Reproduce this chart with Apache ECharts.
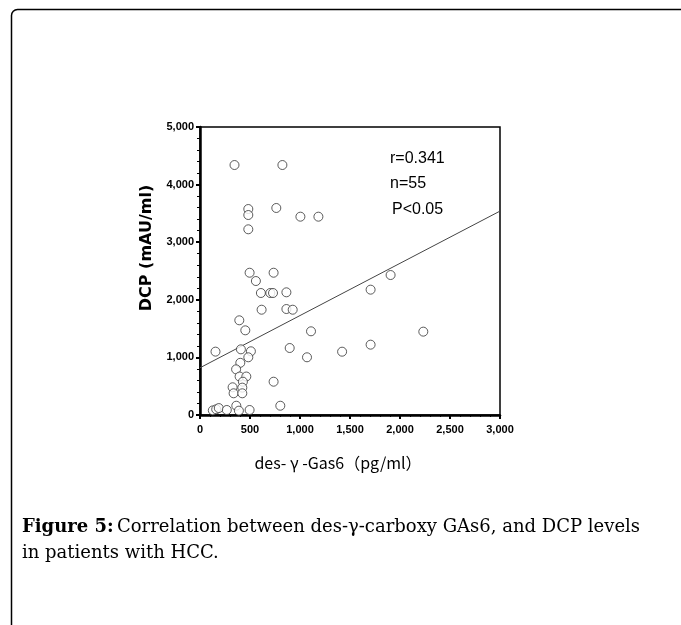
<!DOCTYPE html>
<html><head><meta charset="utf-8">
<script src="https://cdn.jsdelivr.net/npm/echarts@6/dist/echarts.min.js"></script>
<style>html,body{margin:0;padding:0;background:#fff}#c{width:681px;height:625px}</style>
</head><body><div id="c"></div>
<script>
// Data
const gas6 = [345,824,483,483,483,763,1004,1184,
  496,736,559,609,703,730,864,616,864,927,
  393,453,1110,
  155,409,509,483,897,1070,
  403,361,396,463,429,736,326,423,336,423,
  363,803,
  128,162,188,268,389,496,
  1906,1706,2233,1706,1421];
const dcp = [4340,4340,3576,3472,3224,3594,3443,3443,
  2470,2470,2326,2118,2118,2118,2130,1828,1840,1828,
  1644,1470,1453,
  1100,1140,1106,1002,1163,1002,
  906,793,668,668,578,578,481,475,377,377,
  161,161,
  80,99,120,87,75,87,
  2430,2176,1447,1221,1099];
const fitX = [0, 3000];
const fitY = [820, 3540];
const xTicks = [0,500,1000,1500,2000,2500,3000];
const yTicks = [0,1000,2000,3000,4000,5000];
const statsText = ["r=0.341","n=55","P<0.05"];
const xTitle = "des- \u03b3 -Gas6\uff08pg/ml\uff09";
const yTitle = "DCP (mAU/ml)";

const fmt = v => String(v).replace(/\B(?=(\d{3})+(?!\d))/g, ",");
const pts = gas6.map((x,i)=>[x,dcp[i]]);
const chart = echarts.init(document.getElementById('c'));
chart.setOption({
  animation:false,
  grid:{left:200,top:127,width:300,height:288,show:true,borderColor:'#000',borderWidth:1.5,backgroundColor:'transparent'},
  xAxis:{type:'value',min:xTicks[0],max:xTicks[xTicks.length-1],interval:500,
    axisLine:{lineStyle:{color:'#000',width:2.5}},
    axisTick:{length:4,lineStyle:{color:'#000',width:2}},
    minorTick:{show:true,splitNumber:5,length:2,lineStyle:{color:'#000',width:1}},
    splitLine:{show:false},
    axisLabel:{formatter:fmt,margin:9,fontFamily:'Liberation Sans',fontWeight:900,fontSize:11,color:'#000'}},
  yAxis:{type:'value',min:yTicks[0],max:yTicks[yTicks.length-1],interval:1000,
    axisLine:{lineStyle:{color:'#000',width:2.5}},
    axisTick:{length:4,lineStyle:{color:'#000',width:2}},
    minorTick:{show:true,splitNumber:5,length:3,lineStyle:{color:'#000',width:1}},
    splitLine:{show:false},
    axisLabel:{formatter:fmt,margin:6,fontFamily:'Liberation Sans',fontWeight:900,fontSize:11,color:'#000'}},
  series:[
    {type:'line',data:fitX.map((x,i)=>[x,fitY[i]]),symbol:'none',lineStyle:{color:'#444',width:1},z:1},
    {type:'scatter',data:pts,symbol:'circle',symbolSize:9,
      itemStyle:{color:'#fff',borderColor:'#333',borderWidth:1},z:2}
  ],
  graphic:[
    {type:'rect',shape:{x:11.5,y:9.5,width:800,height:800,r:6},style:{fill:'transparent',stroke:'#000',lineWidth:1.5},z:-1},
    {type:'text',x:147,y:248,rotation:Math.PI/2,style:{text:yTitle,font:'bold 16px "DejaVu Sans"',fill:'#000',textAlign:'center',textVerticalAlign:'middle'}},
    {type:'text',x:338,y:463,style:{text:xTitle,font:'16px "Noto Sans CJK JP"',fill:'#000',textAlign:'center',textVerticalAlign:'middle'}},
    {type:'text',left:390,top:151,style:{text:statsText[0],font:'16px "Liberation Sans"',fill:'#000'}},
    {type:'text',left:390,top:176,style:{text:statsText[1],font:'16px "Liberation Sans"',fill:'#000'}},
    {type:'text',left:392,top:202,style:{text:statsText[2],font:'16px "Liberation Sans"',fill:'#000'}},
    {type:'text',left:22,top:518,style:{rich:{b:{fontFamily:'DejaVu Serif',fontWeight:'bold',fontSize:18,fill:'#000'},n:{fontFamily:'DejaVu Serif',fontSize:18,fill:'#000'}},text:'{b|Figure 5:} {n|Correlation between des-\u03b3-carboxy GAs6, and DCP levels}'}},
    {type:'text',left:22,top:544,style:{text:'in patients with HCC.',font:'18px "DejaVu Serif"',fill:'#000'}}
  ]
});
</script></body></html>
